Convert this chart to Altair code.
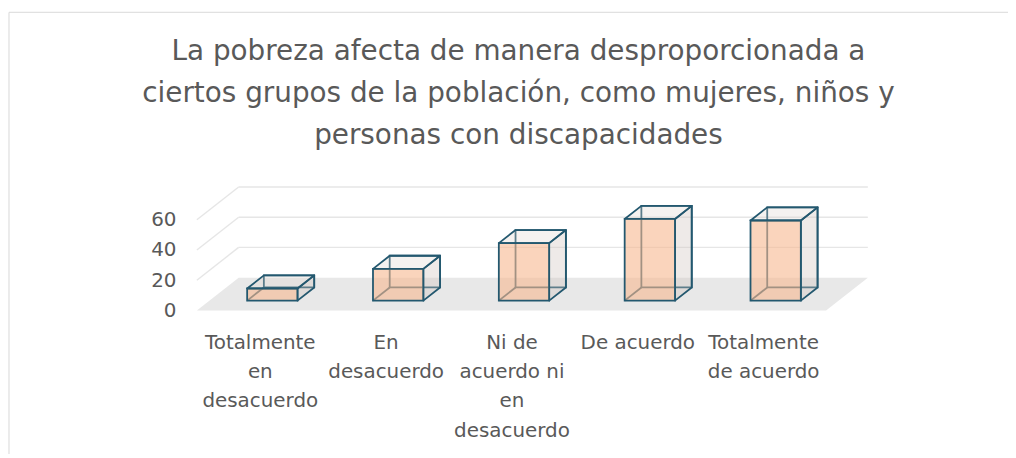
import json
import altair as alt
import pandas as pd

# ---------------- data ----------------
categories = [
    "Totalmente en desacuerdo",
    "En desacuerdo",
    "Ni de acuerdo ni en desacuerdo",
    "De acuerdo",
    "Totalmente de acuerdo",
]
values = [8, 21, 38, 54, 53]
tick_labels = [
    ["Totalmente", "en", "desacuerdo"],
    ["En", "desacuerdo"],
    ["Ni de", "acuerdo ni", "en", "desacuerdo"],
    ["De acuerdo"],
    ["Totalmente", "de acuerdo"],
]
y_ticks = [0, 20, 40, 60]
title_lines = [
    "La pobreza afecta de manera desproporcionada a",
    "ciertos grupos de la población, como mujeres, niños y",
    "personas con discapacidades",
]

# ---------------- 3-D look (style constants) ----------------
DEPTH_X = 0.332      # oblique depth, in category units
DEPTH_Y = 21.7       # oblique depth, in value units
HALF_W = 0.2         # half bar width (category units)
F_FRONT, F_BACK = 0.3, 0.7   # bar depth span
N = len(categories)
X_MAX = N + DEPTH_X
Y_MAX = max(y_ticks) + DEPTH_Y
W, H = 675, 124.2

FONT = "DejaVu Sans"
TXT = "#595959"
EDGE = "#23586f"
PEACH = "#f7b88f"

# ---------------- tables built from the lists ----------------
faces, bars = [], []
for i, (cat, v) in enumerate(zip(categories, values)):
    c = i + 0.5
    row = {"cat": cat}
    for tag, f in (("f", F_FRONT), ("b", F_BACK)):
        xl = c - HALF_W + f * DEPTH_X
        xr = c + HALF_W + f * DEPTH_X
        y0 = f * DEPTH_Y
        y1 = v + f * DEPTH_Y
        faces.append({"cat": cat, "xl": xl, "xr": xr, "y0": y0, "y1": y1})
        row.update({tag + "xl": xl, tag + "xr": xr, tag + "y0": y0, tag + "y1": y1})
    bars.append(row)
faces_df = pd.DataFrame(faces)
bars_df = pd.DataFrame(bars)

grid_rows = []
for t in y_ticks:
    if t > 0:
        grid_rows.append({"x1": DEPTH_X, "x2": N + DEPTH_X, "y1": t + DEPTH_Y, "y2": t + DEPTH_Y})
        grid_rows.append({"x1": 0, "x2": DEPTH_X, "y1": t, "y2": t + DEPTH_Y})
grid_df = pd.DataFrame(grid_rows)

floor_df = pd.DataFrame([
    {"fy": 0, "fx1": 0, "fx2": N},
    {"fy": DEPTH_Y, "fx1": DEPTH_X, "fx2": N + DEPTH_X},
])

# ---------------- scales / axes ----------------
xs = alt.Scale(domain=[0, X_MAX], nice=False, zero=False)
ys = alt.Scale(domain=[0, Y_MAX], nice=False, zero=False)
x_axis = alt.Axis(
    values=[i + 0.5 for i in range(N)],
    labelExpr=json.dumps(tick_labels, ensure_ascii=False) + "[round(datum.value - 0.5)]",
    title=None, ticks=False, domain=False, grid=False,
    labelPadding=22, labelFontSize=20, labelFont=FONT, labelColor=TXT,
    labelLineHeight=29.5, labelOverlap=False, labelFlush=False, labelBaseline="top",
)
y_axis = alt.Axis(
    values=y_ticks, title=None, ticks=False, domain=False, grid=False,
    labelPadding=21, labelFontSize=20, labelFont=FONT, labelColor=TXT,
)


def X(f):
    return alt.X(f, type="quantitative", scale=xs, axis=x_axis, stack=None)


def Y(f):
    return alt.Y(f, type="quantitative", scale=ys, axis=y_axis, stack=None)


# ---------------- layers ----------------
border = alt.Chart(alt.Data(values=[{}])).mark_rect(
    fill="white", fillOpacity=0, stroke="#d9d9d9", strokeWidth=1
).encode(
    x=alt.value(-189), x2=alt.value(W + 400),
    y=alt.value(-175.7), y2=alt.value(H + 400),
)

floor = alt.Chart(floor_df).mark_area(orient="horizontal", color="#e8e8e8").encode(
    y=Y("fy"), x=X("fx1"), x2=alt.X2("fx2")
)

grid = alt.Chart(grid_df).mark_rule(color="#e6e6e6", strokeWidth=1.4).encode(
    x=X("x1"), x2=alt.X2("x2"), y=Y("y1"), y2=alt.Y2("y2")
)

back_face = alt.Chart(bars_df).mark_rect(
    fill="white", fillOpacity=0, stroke=EDGE, strokeWidth=1.8
).encode(x=X("bxl"), x2=alt.X2("bxr"), y=Y("by0"), y2=alt.Y2("by1"))

hidden_edge = alt.Chart(bars_df).mark_rule(color=EDGE, strokeWidth=1.8).encode(
    x=X("fxl"), x2=alt.X2("bxl"), y=Y("fy0"), y2=alt.Y2("by0")
)

side_face = alt.Chart(faces_df).mark_area(
    orient="vertical", fill="#cfc3bd", fillOpacity=0.35,
    stroke=EDGE, strokeWidth=1.8, strokeJoin="round",
).encode(x=X("xr"), y=Y("y0"), y2=alt.Y2("y1"), detail="cat:N")

top_face = alt.Chart(faces_df).mark_area(
    orient="horizontal", fill="#ddd3ce", fillOpacity=0.3,
    stroke=EDGE, strokeWidth=1.8, strokeJoin="round",
).encode(y=Y("y1"), x=X("xl"), x2=alt.X2("xr"), detail="cat:N")

front_face = alt.Chart(bars_df).mark_rect(
    fill=PEACH, fillOpacity=0.6, stroke=EDGE, strokeWidth=1.8
).encode(x=X("fxl"), x2=alt.X2("fxr"), y=Y("fy0"), y2=alt.Y2("fy1"))

chart = alt.layer(
    border, floor, grid, back_face, hidden_edge, side_face, top_face, front_face
).properties(
    width=W,
    height=H,
    view=alt.ViewBackground(stroke="transparent", strokeOpacity=0, strokeWidth=0),
    title=alt.Title(
        text=title_lines, anchor="middle", frame="group", fontSize=28, font=FONT,
        fontWeight="normal", color=TXT, lineHeight=42, baseline="middle",
        offset=-152.5, dx=-14,
    ),
    padding={"left": 190, "top": 178.7, "right": 141, "bottom": 143},
    autosize=alt.AutoSizeParams(type="none"),
).configure_view(stroke="transparent", strokeOpacity=0, strokeWidth=0).configure(background="white")

chart.save("out.html", embed_options={"renderer": "svg", "actions": False})
